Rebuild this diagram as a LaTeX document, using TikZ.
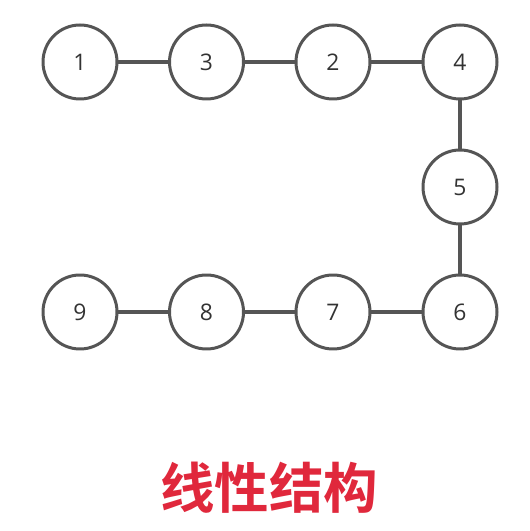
\documentclass[tikz,border=0pt]{standalone}
\usepackage{fontspec}
\setmainfont{Open Sans}
\newfontfamily\cjk{Noto Sans CJK SC}[BoldFont={Noto Sans CJK SC Bold}]
\usepackage{xcolor}
\usetikzlibrary{positioning}
\definecolor{ringgray}{HTML}{555555}
\definecolor{titlered}{HTML}{E0283C}

\begin{document}
\begin{tikzpicture}[
    elem/.style={circle, draw=ringgray, line width=1.7pt, minimum size=1.48cm, inner sep=0pt, font=\fontsize{13}{15}\selectfont, text=black!80},
    link/.style={draw=ringgray, line width=2pt},
    on grid
]
    \useasboundingbox (0,0) rectangle (10.58,10.62);
    \node[elem] (n1) at (1.6,9.38) {1};
    \node[elem, right=2.53cm of n1] (n3) {3};
    \node[elem, right=2.53cm of n3] (n2) {2};
    \node[elem, right=2.54cm of n2] (n4) {4};
    \node[elem, below=2.5cm of n4] (n5) {5};
    \node[elem, below=2.5cm of n5] (n6) {6};
    \node[elem, left=2.54cm of n6] (n7) {7};
    \node[elem, left=2.53cm of n7] (n8) {8};
    \node[elem, left=2.53cm of n8] (n9) {9};

    \draw[link] (n1) -- (n3);
    \draw[link] (n3) -- (n2);
    \draw[link] (n2) -- (n4);
    \draw[link] (n4) -- (n5);
    \draw[link] (n5) -- (n6);
    \draw[link] (n6) -- (n7);
    \draw[link] (n7) -- (n8);
    \draw[link] (n8) -- (n9);

    \node[text=titlered, font=\cjk\bfseries\fontsize{31}{34}\selectfont] (title) at (5.38,0.86) {线性结构};
\end{tikzpicture}
\end{document}
